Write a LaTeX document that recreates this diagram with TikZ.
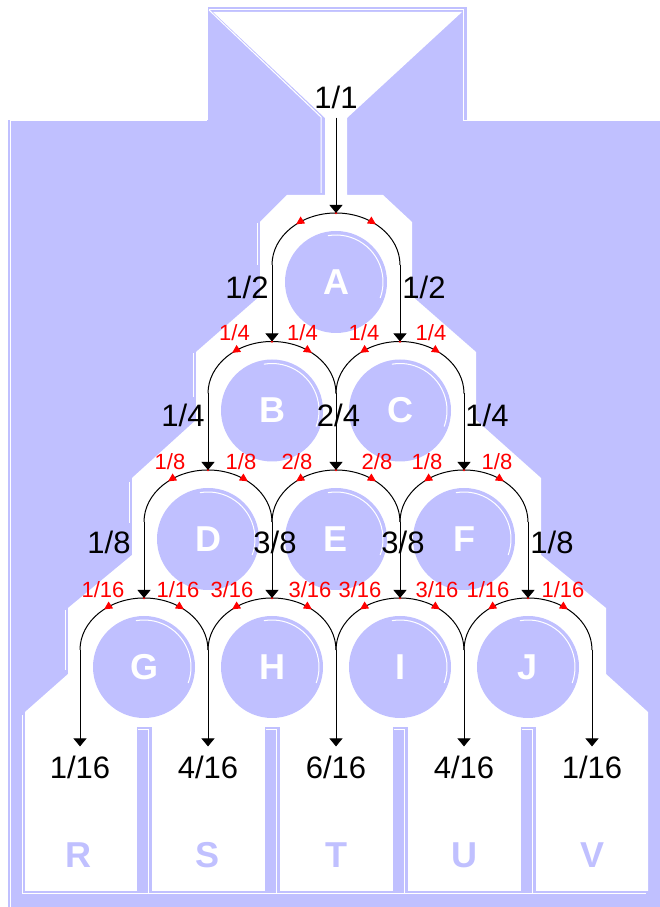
\documentclass[tikz,border=0pt]{standalone}
\usepackage{fontspec}
\setmainfont{Liberation Sans}
\usetikzlibrary{arrows.meta,decorations.markings}
\definecolor{lavender}{HTML}{C0C0FF}
\tikzset{
  base/.style={font=\fontsize{31}{31}\selectfont, text=black, inner sep=0pt},
  share/.style={base, font=\fontsize{22}{22}\selectfont, text=red},
  peg/.style={circle, fill=lavender, minimum size=102pt, inner sep=0pt, text=white, font=\bfseries\fontsize{36}{36}\selectfont,
    path picture={\draw[white, line width=1pt] (path picture bounding box.center) ++(100:47pt) arc[start angle=100, end angle=-20, radius=47pt];}},
  binname/.style={inner sep=0pt, text=lavender, font=\bfseries\fontsize{36}{36}\selectfont},
  flow/.style={-{Triangle[length=8pt,width=13pt]}, line width=1pt},
  fork/.style={line width=1pt, postaction={decorate}, decoration={markings,
    mark=at position 0.27 with {\arrowreversed{Triangle[length=8pt,width=8pt,color=red]}},
    mark=at position 0.5 with {\fill[red] (0,0) circle (1.3pt);},
    mark=at position 0.73 with {\arrow{Triangle[length=8pt,width=8pt,color=red]}}}},
  shine/.style={white, line width=1pt},
}

\begin{document}
\begin{tikzpicture}[x=1pt,y=1pt]
  \useasboundingbox (0,0) rectangle (660,907);

  \fill[lavender] (208,780) rectangle (467,900);
  \fill[lavender] (8,0) rectangle (660,787);
  \fill[white] (213,895) -- (462,895) -- (347,789) -- (347,712) -- (383,712) -- (412,685) -- (412,611) -- (476,555) -- (476,487) -- (541,429) -- (541,352) -- (606,299) -- (606,233) -- (648,195) -- (648,16) -- (25,16) -- (25,195) -- (68,233) -- (68,299) -- (132,352) -- (132,429) -- (196,487) -- (196,555) -- (260,611) -- (260,685) -- (287,712) -- (325,712) -- (325,789) -- cycle;
  \fill[lavender] (136.5,16) rectangle (151.5,180);
  \fill[lavender] (264.5,16) rectangle (279.5,180);
  \fill[lavender] (392.5,16) rectangle (407.5,180);
  \fill[lavender] (520.5,16) rectangle (535.5,180);

  \draw[shine] (10,0) -- (10,786) -- (207,786);
  \draw[shine] (209,897) -- (463,897) -- (463,786) -- (660,786);
  \draw[shine] (209,897) -- (321,790) -- (321,714);
  \draw[shine] (257,684) -- (257,642);
  \draw[shine] (193,554) -- (193,510);
  \draw[shine] (129,425) -- (129,384);
  \draw[shine] (65,297) -- (65,237);
  \draw[shine] (22,192) -- (22,13) -- (646,13);
  \draw[shine] (137.5,177) -- (148.5,177) -- (148.5,13);
  \draw[shine] (265.5,177) -- (276.5,177) -- (276.5,13);
  \draw[shine] (393.5,177) -- (404.5,177) -- (404.5,13);
  \draw[shine] (521.5,177) -- (532.5,177) -- (532.5,13);

  \node[peg] (A) at (336,625) {A};
  \node[peg] (B) at (272,496.5) {B};
  \node[peg] (C) at (400,496.5) {C};
  \node[peg] (D) at (208,368) {D};
  \node[peg] (E) at (336,368) {E};
  \node[peg] (F) at (464,368) {F};
  \node[peg] (G) at (144,240) {G};
  \node[peg] (H) at (272,240) {H};
  \node[peg] (I) at (400,240) {I};
  \node[peg] (J) at (528,240) {J};

  \node[binname] (R) at (78,52) {R};
  \node[binname] (S) at (208,52) {S};
  \node[binname] (T) at (336,52) {T};
  \node[binname] (U) at (464,52) {U};
  \node[binname] (V) at (592,52) {V};

  \node[base] (feed) at (336,810) {1/1};
  \node[base] (fAB) at (247,620) {1/2};
  \node[base] (fAC) at (424,620) {1/2};
  \node[base] (fBD) at (183,492) {1/4};
  \node[base] (fBE) at (338.5,492) {2/4};
  \node[base] (fCF) at (487,492) {1/4};
  \node[base] (fDG) at (109,365) {1/8};
  \node[base] (fDH) at (275,365) {3/8};
  \node[base] (fEI) at (403,365) {3/8};
  \node[base] (fFJ) at (552,365) {1/8};
  \node[base] (nR) at (80,140) {1/16};
  \node[base] (nS) at (208,140) {4/16};
  \node[base] (nT) at (336,140) {6/16};
  \node[base] (nU) at (464,140) {4/16};
  \node[base] (nV) at (592,140) {1/16};

  \node[share] (sBl) at (234.5,574) {1/4};
  \node[share] (sBr) at (302.5,574) {1/4};
  \node[share] (sCl) at (364,574) {1/4};
  \node[share] (sCr) at (431,574) {1/4};
  \node[share] (sDl) at (170,445) {1/8};
  \node[share] (sDr) at (241,445) {1/8};
  \node[share] (sEl) at (297,445) {2/8};
  \node[share] (sEr) at (377,445) {2/8};
  \node[share] (sFl) at (427,445) {1/8};
  \node[share] (sFr) at (497,445) {1/8};
  \node[share] (sGl) at (103,317) {1/16};
  \node[share] (sGr) at (178,317) {1/16};
  \node[share] (sHl) at (232,317) {3/16};
  \node[share] (sHr) at (310,317) {3/16};
  \node[share] (sIl) at (360,317) {3/16};
  \node[share] (sIr) at (437,317) {3/16};
  \node[share] (sJl) at (488,317) {1/16};
  \node[share] (sJr) at (563,317) {1/16};

  \draw[fork] ([shift={(-64,17)}]A.center) arc[start angle=180, end angle=0, x radius=64pt, y radius=52pt];
  \draw[fork] ([shift={(-64,17)}]B.center) arc[start angle=180, end angle=0, x radius=64pt, y radius=52pt];
  \draw[fork] ([shift={(-64,17)}]C.center) arc[start angle=180, end angle=0, x radius=64pt, y radius=52pt];
  \draw[fork] ([shift={(-64,17)}]D.center) arc[start angle=180, end angle=0, x radius=64pt, y radius=52pt];
  \draw[fork] ([shift={(-64,17)}]E.center) arc[start angle=180, end angle=0, x radius=64pt, y radius=52pt];
  \draw[fork] ([shift={(-64,17)}]F.center) arc[start angle=180, end angle=0, x radius=64pt, y radius=52pt];
  \draw[fork] ([shift={(-64,17)}]G.center) arc[start angle=180, end angle=0, x radius=64pt, y radius=52pt];
  \draw[fork] ([shift={(-64,17)}]H.center) arc[start angle=180, end angle=0, x radius=64pt, y radius=52pt];
  \draw[fork] ([shift={(-64,17)}]I.center) arc[start angle=180, end angle=0, x radius=64pt, y radius=52pt];
  \draw[fork] ([shift={(-64,17)}]J.center) arc[start angle=180, end angle=0, x radius=64pt, y radius=52pt];

  \draw[flow] ([yshift=-9pt]feed.south) -- ([yshift=69pt]A.center);
  \draw[flow] ([shift={(-64,17)}]A.center) -- ([yshift=69pt]B.center);
  \draw[flow] ([shift={(64,17)}]A.center) -- ([yshift=69pt]C.center);
  \draw[flow] ([shift={(-64,17)}]B.center) -- ([yshift=69pt]D.center);
  \draw[flow] ([shift={(64,17)}]B.center) -- ([yshift=69pt]E.center);
  \draw[flow] ([shift={(64,17)}]C.center) -- ([yshift=69pt]F.center);
  \draw[flow] ([shift={(-64,17)}]D.center) -- ([yshift=69pt]G.center);
  \draw[flow] ([shift={(64,17)}]D.center) -- ([yshift=69pt]H.center);
  \draw[flow] ([shift={(64,17)}]E.center) -- ([yshift=69pt]I.center);
  \draw[flow] ([shift={(64,17)}]F.center) -- ([yshift=69pt]J.center);
  \draw[flow] ([shift={(-64,17)}]G.center) -- ([yshift=9pt]nR.north);
  \draw[flow] ([shift={(64,17)}]G.center) -- ([yshift=9pt]nS.north);
  \draw[flow] ([shift={(64,17)}]H.center) -- ([yshift=9pt]nT.north);
  \draw[flow] ([shift={(64,17)}]I.center) -- ([yshift=9pt]nU.north);
  \draw[flow] ([shift={(64,17)}]J.center) -- ([yshift=9pt]nV.north);
\end{tikzpicture}
\end{document}
